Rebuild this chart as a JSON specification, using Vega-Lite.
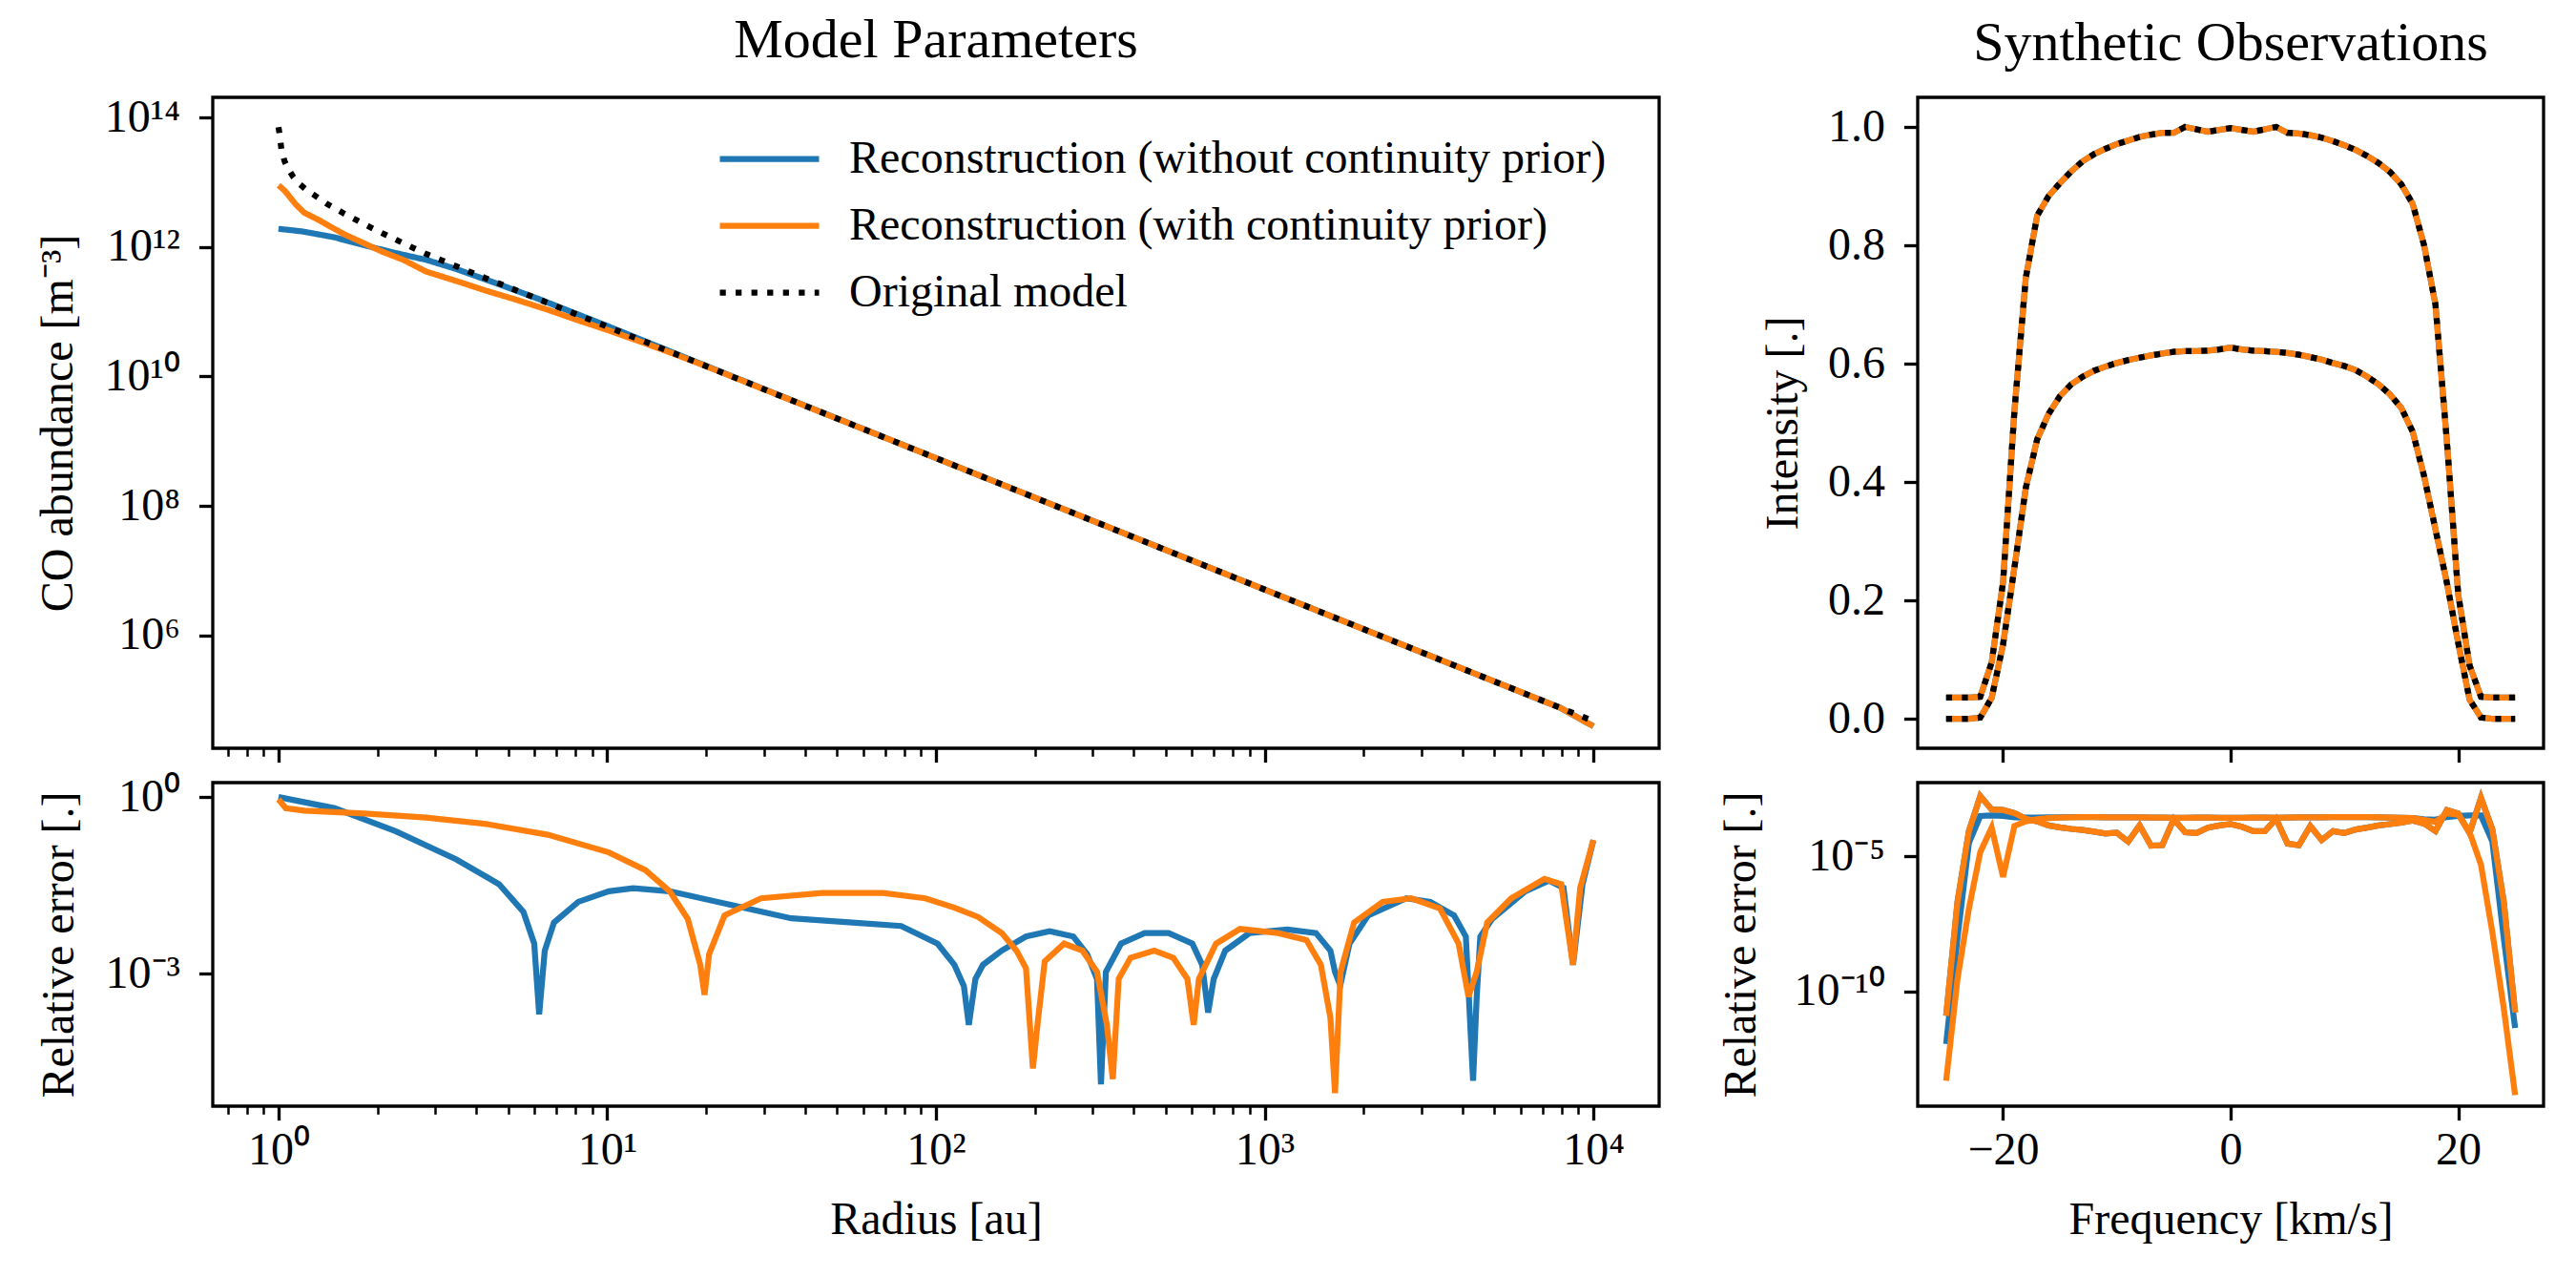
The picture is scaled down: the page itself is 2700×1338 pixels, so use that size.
{
  "$schema": "https://vega.github.io/schema/vega-lite/v6.json",
  "autosize": {"type": "none"},
  "padding": {"left": 223, "top": 102, "right": 2477, "bottom": 1236},
  "background": "white",
  "config": {
    "font": "Liberation Serif",
    "view": {"stroke": "black", "strokeWidth": 3.3, "fill": "white"},
    "axis": {"grid": false, "domain": false, "ticks": true, "tickColor": "black", "tickWidth": 3.3, "tickSize": 14.6,
      "labelFont": "Liberation Serif", "labelFontSize": 48, "labelColor": "black", "labelPadding": 8,
      "labelOverlap": false, "labelFlush": false, "titleFont": "Liberation Serif", "titleFontSize": 48,
      "titleFontWeight": "normal", "titleColor": "black"},
    "axisY": {"labelPadding": 20},
    "title": {"font": "Liberation Serif", "fontSize": 58, "fontWeight": "normal", "color": "black", "anchor": "middle", "frame": "group", "offset": 27, "baseline": "alphabetic"},
    "line": {"strokeWidth": 6.25, "clip": true}
  },
  "datasets": {
    "abund": [
      {"s": "Reconstruction (without continuity prior)", "r": 1, "n": 1.905e12},
      {"s": "Reconstruction (without continuity prior)", "r": 1.1803, "n": 1.738e12},
      {"s": "Reconstruction (without continuity prior)", "r": 1.4757, "n": 1.413e12},
      {"s": "Reconstruction (without continuity prior)", "r": 1.8408, "n": 1.047e12},
      {"s": "Reconstruction (without continuity prior)", "r": 2.3014, "n": 7.94e11},
      {"s": "Reconstruction (without continuity prior)", "r": 2.8184, "n": 6.31e11},
      {"s": "Reconstruction (without continuity prior)", "r": 3.4674, "n": 4.57e11},
      {"s": "Reconstruction (without continuity prior)", "r": 4.6774, "n": 2.66e11},
      {"s": "Reconstruction (without continuity prior)", "r": 6.166, "n": 1.585e11},
      {"s": "Reconstruction (without continuity prior)", "r": 10, "n": 6.03e10},
      {"s": "Reconstruction (without continuity prior)", "r": 15.849, "n": 2.34e10},
      {"s": "Reconstruction (without continuity prior)", "r": 100, "n": 5.5e8},
      {"s": "Reconstruction (without continuity prior)", "r": 1000, "n": 5.13e6},
      {"s": "Reconstruction (without continuity prior)", "r": 7943, "n": 7.64e4},
      {"s": "Reconstruction (without continuity prior)", "r": 10000, "n": 3.98e4},
      {"s": "Reconstruction (with continuity prior)", "r": 1, "n": 8.91e12},
      {"s": "Reconstruction (with continuity prior)", "r": 1.0233, "n": 8.13e12},
      {"s": "Reconstruction (with continuity prior)", "r": 1.052, "n": 7.08e12},
      {"s": "Reconstruction (with continuity prior)", "r": 1.1272, "n": 4.57e12},
      {"s": "Reconstruction (with continuity prior)", "r": 1.1967, "n": 3.39e12},
      {"s": "Reconstruction (with continuity prior)", "r": 1.3213, "n": 2.63e12},
      {"s": "Reconstruction (with continuity prior)", "r": 1.5776, "n": 1.585e12},
      {"s": "Reconstruction (with continuity prior)", "r": 1.8323, "n": 1.122e12},
      {"s": "Reconstruction (with continuity prior)", "r": 2.0606, "n": 8.51e11},
      {"s": "Reconstruction (with continuity prior)", "r": 2.3988, "n": 6.31e11},
      {"s": "Reconstruction (with continuity prior)", "r": 2.8119, "n": 4.17e11},
      {"s": "Reconstruction (with continuity prior)", "r": 3.5481, "n": 2.88e11},
      {"s": "Reconstruction (with continuity prior)", "r": 4.3053, "n": 2.09e11},
      {"s": "Reconstruction (with continuity prior)", "r": 5.2481, "n": 1.549e11},
      {"s": "Reconstruction (with continuity prior)", "r": 6.5917, "n": 1.072e11},
      {"s": "Reconstruction (with continuity prior)", "r": 8.1283, "n": 7.41e10},
      {"s": "Reconstruction (with continuity prior)", "r": 10.116, "n": 5.13e10},
      {"s": "Reconstruction (with continuity prior)", "r": 13.062, "n": 3.24e10},
      {"s": "Reconstruction (with continuity prior)", "r": 15.849, "n": 2.26e10},
      {"s": "Reconstruction (with continuity prior)", "r": 19.953, "n": 1.445e10},
      {"s": "Reconstruction (with continuity prior)", "r": 100, "n": 5.5e8},
      {"s": "Reconstruction (with continuity prior)", "r": 1000, "n": 5.13e6},
      {"s": "Reconstruction (with continuity prior)", "r": 7943, "n": 7.64e4},
      {"s": "Reconstruction (with continuity prior)", "r": 10000, "n": 3.98e4},
      {"s": "Original model", "r": 1, "n": 7.08e13},
      {"s": "Original model", "r": 1.0093, "n": 5.25e13},
      {"s": "Original model", "r": 1.021, "n": 3.16e13},
      {"s": "Original model", "r": 1.0423, "n": 2.14e13},
      {"s": "Original model", "r": 1.0666, "n": 1.66e13},
      {"s": "Original model", "r": 1.1092, "n": 1.2e13},
      {"s": "Original model", "r": 1.1535, "n": 9.55e12},
      {"s": "Original model", "r": 1.2162, "n": 7.59e12},
      {"s": "Original model", "r": 1.2764, "n": 6.46e12},
      {"s": "Original model", "r": 1.4093, "n": 4.57e12},
      {"s": "Original model", "r": 1.5776, "n": 3.31e12},
      {"s": "Original model", "r": 1.7783, "n": 2.4e12},
      {"s": "Original model", "r": 1.9953, "n": 1.78e12},
      {"s": "Original model", "r": 2.2387, "n": 1.35e12},
      {"s": "Original model", "r": 2.5119, "n": 1.02e12},
      {"s": "Original model", "r": 2.8184, "n": 7.76e11},
      {"s": "Original model", "r": 3.9811, "n": 3.8e11},
      {"s": "Original model", "r": 10, "n": 5.89e10},
      {"s": "Original model", "r": 100, "n": 5.5e8},
      {"s": "Original model", "r": 1000, "n": 5.13e6},
      {"s": "Original model", "r": 10000, "n": 4.79e4}
    ],
    "relerr": [
      {"s": "A", "r": 1, "e": 1.0}, {"s": "A", "r": 1.4825, "e": 0.6457}, {"s": "A", "r": 2.2699, "e": 0.263},
      {"s": "A", "r": 3.4754, "e": 0.0871}, {"s": "A", "r": 4.6881, "e": 0.0331}, {"s": "A", "r": 5.559, "e": 0.01122},
      {"s": "A", "r": 5.9979, "e": 0.003236}, {"s": "A", "r": 6.2087, "e": 0.000204}, {"s": "A", "r": 6.4565, "e": 0.002455},
      {"s": "A", "r": 6.8865, "e": 0.007413}, {"s": "A", "r": 8.1658, "e": 0.016596}, {"s": "A", "r": 10.116, "e": 0.025119},
      {"s": "A", "r": 11.995, "e": 0.028184}, {"s": "A", "r": 15.488, "e": 0.025119}, {"s": "A", "r": 23.714, "e": 0.014791},
      {"s": "A", "r": 36.308, "e": 0.00871}, {"s": "A", "r": 55.719, "e": 0.007413}, {"s": "A", "r": 78.343, "e": 0.006457},
      {"s": "A", "r": 101.16, "e": 0.003236}, {"s": "A", "r": 113.76, "e": 0.001413}, {"s": "A", "r": 121.62, "e": 0.000617},
      {"s": "A", "r": 125.89, "e": 0.000135}, {"s": "A", "r": 131.83, "e": 0.000813}, {"s": "A", "r": 139.0, "e": 0.001413},
      {"s": "A", "r": 158.49, "e": 0.002455}, {"s": "A", "r": 187.93, "e": 0.004266}, {"s": "A", "r": 221.82, "e": 0.005248},
      {"s": "A", "r": 261.82, "e": 0.004266}, {"s": "A", "r": 288.4, "e": 0.002138}, {"s": "A", "r": 309.03, "e": 0.000813},
      {"s": "A", "r": 317.69, "e": 1.318e-5}, {"s": "A", "r": 328.85, "e": 0.001072}, {"s": "A", "r": 365.59, "e": 0.003236},
      {"s": "A", "r": 431.52, "e": 0.004898}, {"s": "A", "r": 510.51, "e": 0.004898}, {"s": "A", "r": 602.56, "e": 0.003236},
      {"s": "A", "r": 645.65, "e": 0.001413}, {"s": "A", "r": 672.98, "e": 0.000219}, {"s": "A", "r": 699.84, "e": 0.000813},
      {"s": "A", "r": 758.58, "e": 0.002455}, {"s": "A", "r": 899.5, "e": 0.004898}, {"s": "A", "r": 1172.2, "e": 0.005623},
      {"s": "A", "r": 1432.2, "e": 0.004898}, {"s": "A", "r": 1584.9, "e": 0.002455}, {"s": "A", "r": 1636.8, "e": 0.001072},
      {"s": "A", "r": 1698.2, "e": 0.000631}, {"s": "A", "r": 1811.3, "e": 0.003236}, {"s": "A", "r": 2065.4, "e": 0.009772},
      {"s": "A", "r": 2697.7, "e": 0.019055}, {"s": "A", "r": 3191.5, "e": 0.016596}, {"s": "A", "r": 3767.0, "e": 0.009772},
      {"s": "A", "r": 4092.6, "e": 0.004266}, {"s": "A", "r": 4305.3, "e": 1.514e-5}, {"s": "A", "r": 4415.7, "e": 0.000398},
      {"s": "A", "r": 4528.9, "e": 0.004266}, {"s": "A", "r": 4920.4, "e": 0.008511}, {"s": "A", "r": 6208.7, "e": 0.025119},
      {"s": "A", "r": 7328.2, "e": 0.038019}, {"s": "A", "r": 8109.6, "e": 0.02884}, {"s": "A", "r": 8669.6, "e": 0.001413},
      {"s": "A", "r": 9268.3, "e": 0.033113}, {"s": "A", "r": 10000, "e": 0.18621},
      {"s": "B", "r": 1, "e": 0.912}, {"s": "B", "r": 1.052, "e": 0.6457}, {"s": "B", "r": 1.1967, "e": 0.5888},
      {"s": "B", "r": 1.8323, "e": 0.5248}, {"s": "B", "r": 2.8119, "e": 0.4467}, {"s": "B", "r": 4.3053, "e": 0.3467},
      {"s": "B", "r": 6.5917, "e": 0.2291}, {"s": "B", "r": 10.116, "e": 0.1148}, {"s": "B", "r": 13.062, "e": 0.05754},
      {"s": "B", "r": 15.488, "e": 0.02512}, {"s": "B", "r": 17.579, "e": 0.008511}, {"s": "B", "r": 19.187, "e": 0.001413},
      {"s": "B", "r": 19.77, "e": 0.000437}, {"s": "B", "r": 20.417, "e": 0.002138}, {"s": "B", "r": 22.751, "e": 0.009772},
      {"s": "B", "r": 29.376, "e": 0.019055}, {"s": "B", "r": 44.978, "e": 0.023442}, {"s": "B", "r": 69.024, "e": 0.023442},
      {"s": "B", "r": 92.897, "e": 0.019055}, {"s": "B", "r": 114.02, "e": 0.013183}, {"s": "B", "r": 134.59, "e": 0.00912},
      {"s": "B", "r": 158.49, "e": 0.004898}, {"s": "B", "r": 175.79, "e": 0.002455}, {"s": "B", "r": 187.93, "e": 0.00123},
      {"s": "B", "r": 197.24, "e": 2.455e-5}, {"s": "B", "r": 204.17, "e": 0.000155}, {"s": "B", "r": 214.29, "e": 0.001622},
      {"s": "B", "r": 245.47, "e": 0.003236}, {"s": "B", "r": 279.25, "e": 0.002455}, {"s": "B", "r": 309.03, "e": 0.001072},
      {"s": "B", "r": 331.13, "e": 0.000135}, {"s": "B", "r": 345.14, "e": 1.622e-5}, {"s": "B", "r": 359.75, "e": 0.000813},
      {"s": "B", "r": 390.84, "e": 0.001862}, {"s": "B", "r": 461.32, "e": 0.002455}, {"s": "B", "r": 527.23, "e": 0.001862},
      {"s": "B", "r": 582.1, "e": 0.000813}, {"s": "B", "r": 608.14, "e": 0.000135}, {"s": "B", "r": 630.96, "e": 0.000813},
      {"s": "B", "r": 711.21, "e": 0.003236}, {"s": "B", "r": 841.4, "e": 0.005754}, {"s": "B", "r": 1099.0, "e": 0.004898},
      {"s": "B", "r": 1339.7, "e": 0.003715}, {"s": "B", "r": 1482.5, "e": 0.001413}, {"s": "B", "r": 1584.9, "e": 0.000178},
      {"s": "B", "r": 1636.8, "e": 9.33e-6}, {"s": "B", "r": 1702.2, "e": 0.001072}, {"s": "B", "r": 1870.9, "e": 0.007413},
      {"s": "B", "r": 2285.6, "e": 0.016596}, {"s": "B", "r": 2792.5, "e": 0.019055}, {"s": "B", "r": 3412.0, "e": 0.012882},
      {"s": "B", "r": 3890.5, "e": 0.003236}, {"s": "B", "r": 4168.7, "e": 0.000407}, {"s": "B", "r": 4415.7, "e": 0.001072},
      {"s": "B", "r": 4753.4, "e": 0.007413}, {"s": "B", "r": 5623.4, "e": 0.019055}, {"s": "B", "r": 7095.7, "e": 0.040738},
      {"s": "B", "r": 7979.8, "e": 0.033113}, {"s": "B", "r": 8669.6, "e": 0.001413}, {"s": "B", "r": 9120.1, "e": 0.02884},
      {"s": "B", "r": 10000, "e": 0.18621}
    ],
    "prof": [
      {"p": "H", "f": -25, "v": 0.0355}, {"p": "H", "f": -24, "v": 0.0355}, {"p": "H", "f": -23, "v": 0.0355}, {"p": "H", "f": -22, "v": 0.037},
      {"p": "H", "f": -21, "v": 0.095}, {"p": "H", "f": -20, "v": 0.23}, {"p": "H", "f": -19, "v": 0.52}, {"p": "H", "f": -18, "v": 0.745},
      {"p": "H", "f": -17, "v": 0.85}, {"p": "H", "f": -16, "v": 0.883}, {"p": "H", "f": -15, "v": 0.905}, {"p": "H", "f": -14, "v": 0.925},
      {"p": "H", "f": -13, "v": 0.942}, {"p": "H", "f": -12, "v": 0.954}, {"p": "H", "f": -11, "v": 0.963}, {"p": "H", "f": -10, "v": 0.971},
      {"p": "H", "f": -9, "v": 0.977}, {"p": "H", "f": -8, "v": 0.983}, {"p": "H", "f": -7, "v": 0.987}, {"p": "H", "f": -6, "v": 0.99},
      {"p": "H", "f": -5, "v": 0.99}, {"p": "H", "f": -4, "v": 1.0}, {"p": "H", "f": -3, "v": 0.996}, {"p": "H", "f": -2, "v": 0.992},
      {"p": "H", "f": -1, "v": 0.995}, {"p": "H", "f": 0, "v": 0.998}, {"p": "H", "f": 1, "v": 0.995}, {"p": "H", "f": 2, "v": 0.992},
      {"p": "H", "f": 3, "v": 0.996}, {"p": "H", "f": 4, "v": 1.0}, {"p": "H", "f": 5, "v": 0.99}, {"p": "H", "f": 6, "v": 0.989},
      {"p": "H", "f": 7, "v": 0.986}, {"p": "H", "f": 8, "v": 0.982}, {"p": "H", "f": 9, "v": 0.976}, {"p": "H", "f": 10, "v": 0.969},
      {"p": "H", "f": 11, "v": 0.961}, {"p": "H", "f": 12, "v": 0.951}, {"p": "H", "f": 13, "v": 0.939}, {"p": "H", "f": 14, "v": 0.924},
      {"p": "H", "f": 15, "v": 0.903}, {"p": "H", "f": 16, "v": 0.87}, {"p": "H", "f": 17, "v": 0.8}, {"p": "H", "f": 18, "v": 0.7},
      {"p": "H", "f": 19, "v": 0.47}, {"p": "H", "f": 20, "v": 0.21}, {"p": "H", "f": 21, "v": 0.09}, {"p": "H", "f": 22, "v": 0.037},
      {"p": "H", "f": 23, "v": 0.0355}, {"p": "H", "f": 24, "v": 0.0355}, {"p": "H", "f": 25, "v": 0.0355},
      {"p": "L", "f": -25, "v": 0}, {"p": "L", "f": -24, "v": 0}, {"p": "L", "f": -23, "v": 0}, {"p": "L", "f": -22, "v": 0.002},
      {"p": "L", "f": -21, "v": 0.035}, {"p": "L", "f": -20, "v": 0.125}, {"p": "L", "f": -19, "v": 0.255}, {"p": "L", "f": -18, "v": 0.39},
      {"p": "L", "f": -17, "v": 0.472}, {"p": "L", "f": -16, "v": 0.515}, {"p": "L", "f": -15, "v": 0.545}, {"p": "L", "f": -14, "v": 0.565},
      {"p": "L", "f": -13, "v": 0.578}, {"p": "L", "f": -12, "v": 0.588}, {"p": "L", "f": -11, "v": 0.595}, {"p": "L", "f": -10, "v": 0.601},
      {"p": "L", "f": -9, "v": 0.606}, {"p": "L", "f": -8, "v": 0.61}, {"p": "L", "f": -7, "v": 0.614}, {"p": "L", "f": -6, "v": 0.617},
      {"p": "L", "f": -5, "v": 0.62}, {"p": "L", "f": -4, "v": 0.621}, {"p": "L", "f": -3, "v": 0.621}, {"p": "L", "f": -2, "v": 0.622},
      {"p": "L", "f": -1, "v": 0.624}, {"p": "L", "f": 0, "v": 0.627}, {"p": "L", "f": 1, "v": 0.624}, {"p": "L", "f": 2, "v": 0.622},
      {"p": "L", "f": 3, "v": 0.621}, {"p": "L", "f": 4, "v": 0.62}, {"p": "L", "f": 5, "v": 0.618}, {"p": "L", "f": 6, "v": 0.615},
      {"p": "L", "f": 7, "v": 0.611}, {"p": "L", "f": 8, "v": 0.607}, {"p": "L", "f": 9, "v": 0.601}, {"p": "L", "f": 10, "v": 0.596},
      {"p": "L", "f": 11, "v": 0.589}, {"p": "L", "f": 12, "v": 0.578}, {"p": "L", "f": 13, "v": 0.565}, {"p": "L", "f": 14, "v": 0.548},
      {"p": "L", "f": 15, "v": 0.525}, {"p": "L", "f": 16, "v": 0.485}, {"p": "L", "f": 17, "v": 0.41}, {"p": "L", "f": 18, "v": 0.32},
      {"p": "L", "f": 19, "v": 0.23}, {"p": "L", "f": 20, "v": 0.128}, {"p": "L", "f": 21, "v": 0.032}, {"p": "L", "f": 22, "v": 0.002},
      {"p": "L", "f": 23, "v": 0}, {"p": "L", "f": 24, "v": 0}, {"p": "L", "f": 25, "v": 0}
    ],
    "serr": [
      {"p": 1, "f": -25, "a": 1.26e-11, "b": 1.26e-11}, {"p": 1, "f": -24, "a": 2.14e-7, "b": 2.14e-7},
      {"p": 1, "f": -23, "a": 8.71e-5, "b": 8.71e-5}, {"p": 1, "f": -22, "a": 1.74e-3, "b": 1.74e-3},
      {"p": 1, "f": -21, "a": 5.5e-4, "b": 5.5e-4}, {"p": 1, "f": -20, "a": 5.25e-4, "b": 5.25e-4},
      {"p": 1, "f": -19, "a": 4.07e-4, "b": 4.07e-4}, {"p": 1, "f": -18, "a": 2.51e-4, "b": 2.51e-4},
      {"p": 1, "f": -17, "a": 2.0e-4, "b": 2.0e-4}, {"p": 1, "f": -16, "a": 1.41e-4, "b": 1.41e-4},
      {"p": 1, "f": -15, "a": 1.2e-4, "b": 1.2e-4}, {"p": 1, "f": -14, "a": 1.05e-4, "b": 1.05e-4},
      {"p": 1, "f": -13, "a": 9.55e-5, "b": 9.55e-5}, {"p": 1, "f": -12, "a": 8.32e-5, "b": 8.32e-5},
      {"p": 1, "f": -11, "a": 7.08e-5, "b": 7.08e-5}, {"p": 1, "f": -10, "a": 7.59e-5, "b": 7.59e-5},
      {"p": 1, "f": -9, "a": 3.55e-5, "b": 3.55e-5}, {"p": 1, "f": -8, "a": 1.41e-4, "b": 1.41e-4},
      {"p": 1, "f": -7, "a": 2.51e-5, "b": 2.51e-5}, {"p": 1, "f": -6, "a": 2.63e-5, "b": 2.63e-5},
      {"p": 1, "f": -5, "a": 2.4e-4, "b": 2.4e-4}, {"p": 1, "f": -4, "a": 7.94e-5, "b": 7.94e-5},
      {"p": 1, "f": -3, "a": 7.41e-5, "b": 7.41e-5}, {"p": 1, "f": -2, "a": 1.17e-4, "b": 1.17e-4},
      {"p": 1, "f": -1, "a": 1.41e-4, "b": 1.41e-4}, {"p": 1, "f": 0, "a": 1.58e-4, "b": 1.58e-4},
      {"p": 1, "f": 1, "a": 1.26e-4, "b": 1.26e-4}, {"p": 1, "f": 2, "a": 8.71e-5, "b": 8.71e-5},
      {"p": 1, "f": 3, "a": 8.71e-5, "b": 8.71e-5}, {"p": 1, "f": 4, "a": 2.45e-4, "b": 2.45e-4},
      {"p": 1, "f": 5, "a": 3.02e-5, "b": 3.02e-5}, {"p": 1, "f": 6, "a": 2.63e-5, "b": 2.63e-5},
      {"p": 1, "f": 7, "a": 1.35e-4, "b": 1.35e-4}, {"p": 1, "f": 8, "a": 4.07e-5, "b": 4.07e-5},
      {"p": 1, "f": 9, "a": 8.71e-5, "b": 8.71e-5}, {"p": 1, "f": 10, "a": 7.41e-5, "b": 7.41e-5},
      {"p": 1, "f": 11, "a": 1.0e-4, "b": 1.0e-4}, {"p": 1, "f": 12, "a": 1.17e-4, "b": 1.17e-4},
      {"p": 1, "f": 13, "a": 1.41e-4, "b": 1.41e-4}, {"p": 1, "f": 14, "a": 1.58e-4, "b": 1.58e-4},
      {"p": 1, "f": 15, "a": 1.78e-4, "b": 1.78e-4}, {"p": 1, "f": 16, "a": 2.14e-4, "b": 2.14e-4},
      {"p": 1, "f": 17, "a": 1.66e-4, "b": 1.66e-4}, {"p": 1, "f": 18, "a": 8.71e-5, "b": 8.71e-5},
      {"p": 1, "f": 19, "a": 5.25e-4, "b": 5.25e-4}, {"p": 1, "f": 20, "a": 3.89e-4, "b": 3.89e-4},
      {"p": 1, "f": 21, "a": 7.41e-5, "b": 7.41e-5}, {"p": 1, "f": 22, "a": 1.48e-3, "b": 1.48e-3},
      {"p": 1, "f": 23, "a": 1.0e-4, "b": 1.0e-4}, {"p": 1, "f": 24, "a": 2.14e-7, "b": 2.14e-7},
      {"p": 1, "f": 25, "a": 1.7e-11, "b": 1.7e-11},
      {"p": 2, "f": -25, "a": 1.15e-12, "b": 5.01e-14}, {"p": 2, "f": -24, "a": 1.0e-8, "b": 2.95e-10},
      {"p": 2, "f": -23, "a": 3.16e-5, "b": 1.17e-7}, {"p": 2, "f": -22, "a": 3.16e-4, "b": 1.45e-5},
      {"p": 2, "f": -21, "a": 3.31e-4, "b": 1.17e-4}, {"p": 2, "f": -20, "a": 3.16e-4, "b": 1.74e-6},
      {"p": 2, "f": -19, "a": 2.82e-4, "b": 1.35e-4}, {"p": 2, "f": -18, "a": 2.75e-4, "b": 2.0e-4},
      {"p": 2, "f": -17, "a": 2.75e-4, "b": 2.4e-4}, {"p": 2, "f": -16, "a": 2.8e-4, "b": 2.63e-4},
      {"p": 2, "f": -15, "a": 2.82e-4, "b": 2.75e-4}, {"p": 2, "f": -14, "a": 2.85e-4, "b": 2.82e-4},
      {"p": 2, "f": -13, "a": 2.85e-4, "b": 2.85e-4}, {"p": 2, "f": -12, "a": 2.85e-4, "b": 2.85e-4},
      {"p": 2, "f": -11, "a": 2.82e-4, "b": 2.82e-4}, {"p": 2, "f": -10, "a": 2.82e-4, "b": 2.82e-4},
      {"p": 2, "f": -9, "a": 2.8e-4, "b": 2.8e-4}, {"p": 2, "f": -8, "a": 2.8e-4, "b": 2.8e-4},
      {"p": 2, "f": -7, "a": 2.78e-4, "b": 2.78e-4}, {"p": 2, "f": -6, "a": 2.75e-4, "b": 2.75e-4},
      {"p": 2, "f": -5, "a": 2.7e-4, "b": 2.69e-4}, {"p": 2, "f": -4, "a": 2.72e-4, "b": 2.72e-4},
      {"p": 2, "f": -3, "a": 2.75e-4, "b": 2.75e-4}, {"p": 2, "f": -2, "a": 2.75e-4, "b": 2.75e-4},
      {"p": 2, "f": -1, "a": 2.72e-4, "b": 2.72e-4}, {"p": 2, "f": 0, "a": 2.7e-4, "b": 2.69e-4},
      {"p": 2, "f": 1, "a": 2.72e-4, "b": 2.72e-4}, {"p": 2, "f": 2, "a": 2.75e-4, "b": 2.75e-4},
      {"p": 2, "f": 3, "a": 2.75e-4, "b": 2.75e-4}, {"p": 2, "f": 4, "a": 2.72e-4, "b": 2.7e-4},
      {"p": 2, "f": 5, "a": 2.78e-4, "b": 2.78e-4}, {"p": 2, "f": 6, "a": 2.8e-4, "b": 2.8e-4},
      {"p": 2, "f": 7, "a": 2.82e-4, "b": 2.82e-4}, {"p": 2, "f": 8, "a": 2.82e-4, "b": 2.82e-4},
      {"p": 2, "f": 9, "a": 2.85e-4, "b": 2.85e-4}, {"p": 2, "f": 10, "a": 2.85e-4, "b": 2.85e-4},
      {"p": 2, "f": 11, "a": 2.85e-4, "b": 2.85e-4}, {"p": 2, "f": 12, "a": 2.85e-4, "b": 2.85e-4},
      {"p": 2, "f": 13, "a": 2.82e-4, "b": 2.82e-4}, {"p": 2, "f": 14, "a": 2.78e-4, "b": 2.78e-4},
      {"p": 2, "f": 15, "a": 2.72e-4, "b": 2.72e-4}, {"p": 2, "f": 16, "a": 2.63e-4, "b": 2.63e-4},
      {"p": 2, "f": 17, "a": 2.4e-4, "b": 2.24e-4}, {"p": 2, "f": 18, "a": 2.3e-4, "b": 1.91e-4},
      {"p": 2, "f": 19, "a": 2.9e-4, "b": 3.98e-4}, {"p": 2, "f": 20, "a": 3.16e-4, "b": 3.55e-4},
      {"p": 2, "f": 21, "a": 3.31e-4, "b": 7.94e-5}, {"p": 2, "f": 22, "a": 3.31e-4, "b": 5.01e-6},
      {"p": 2, "f": 23, "a": 3.55e-5, "b": 1.58e-8}, {"p": 2, "f": 24, "a": 1.0e-8, "b": 2.51e-11},
      {"p": 2, "f": 25, "a": 4.47e-12, "b": 1.48e-14}
    ]
  },
  "spacing": 1787,
  "bounds": "flush",
  "hconcat": [
    {
      "spacing": 36,
      "bounds": "flush",
      "vconcat": [
        {
          "width": 1516, "height": 682,
          "title": {"text": "Model Parameters"},
          "data": {"name": "abund"},
          "encoding": {
            "x": {"field": "r", "type": "quantitative",
              "scale": {"type": "log", "domain": [0.631, 15849], "nice": false},
              "axis": {"title": null, "labels": false,
                "values": [0.7,0.8,0.9,1,2,3,4,5,6,7,8,9,10,20,30,40,50,60,70,80,90,100,200,300,400,500,600,700,800,900,1000,2000,3000,4000,5000,6000,7000,8000,9000,10000],
                "tickSize": {"condition": {"test": "abs(log(datum.value)/LN10 - round(log(datum.value)/LN10)) < 0.001", "value": 14.6}, "value": 8.3},
                "tickWidth": {"condition": {"test": "abs(log(datum.value)/LN10 - round(log(datum.value)/LN10)) < 0.001", "value": 3.3}, "value": 2.5}}},
            "y": {"field": "n", "type": "quantitative",
              "scale": {"type": "log", "domain": [18200, 2.04e14], "nice": false},
              "axis": {"values": [1e6, 1e8, 1e10, 1e12, 1e14], "title": "CO abundance [m⁻³]", "titleX": -148, "titleBaseline": "alphabetic",
                "labelExpr": "'10' + replace(replace(replace(replace(replace(replace(replace(replace(replace(replace(replace(toString(round(log(datum.value)/LN10)), '-', '⁻'), regexp('0','g'), '⁰'), regexp('1','g'), '¹'), regexp('2','g'), '²'), regexp('3','g'), '³'), regexp('4','g'), '⁴'), regexp('5','g'), '⁵'), regexp('6','g'), '⁶'), regexp('7','g'), '⁷'), regexp('8','g'), '⁸'), regexp('9','g'), '⁹')"}},
            "color": {"field": "s", "type": "nominal",
              "scale": {"domain": ["Reconstruction (without continuity prior)", "Reconstruction (with continuity prior)", "Original model"], "range": ["#1f77b4", "#ff7f0e", "#000000"]},
              "legend": {"title": null, "orient": "none", "legendX": 554, "legendY": 35, "symbolType": "M-2,0H2", "symbolSize": 2704, "symbolStrokeWidth": 6.25, "labelFont": "Liberation Serif", "labelFontSize": 48, "labelColor": "black", "labelOffset": 54, "rowPadding": 16, "labelLimit": 0, "padding": 0}},
            "strokeDash": {"field": "s", "type": "nominal",
              "scale": {"domain": ["Reconstruction (without continuity prior)", "Reconstruction (with continuity prior)", "Original model"], "range": [[1, 0], [1, 0], [6.25, 10.3]]},
              "legend": {"title": null, "orient": "none", "legendX": 554, "legendY": 35, "symbolType": "M-2,0H2", "symbolSize": 2704, "symbolStrokeWidth": 6.25, "labelFont": "Liberation Serif", "labelFontSize": 48, "labelColor": "black", "labelOffset": 54, "rowPadding": 16, "labelLimit": 0, "padding": 0}}
          },
          "layer": [
            {"transform": [{"filter": {"field": "s", "equal": "Reconstruction (without continuity prior)"}}], "mark": {"type": "line"}},
            {"transform": [{"filter": {"field": "s", "equal": "Reconstruction (with continuity prior)"}}], "mark": {"type": "line"}},
            {"transform": [{"filter": {"field": "s", "equal": "Original model"}}], "mark": {"type": "line"}}
          ]
        },
        {
          "width": 1516, "height": 339,
          "data": {"name": "relerr"},
          "encoding": {
            "x": {"field": "r", "type": "quantitative",
              "scale": {"type": "log", "domain": [0.631, 15849], "nice": false},
              "axis": {"title": "Radius [au]", "titleY": 133, "titleBaseline": "alphabetic",
                "values": [0.7,0.8,0.9,1,2,3,4,5,6,7,8,9,10,20,30,40,50,60,70,80,90,100,200,300,400,500,600,700,800,900,1000,2000,3000,4000,5000,6000,7000,8000,9000,10000],
                "labelExpr": "abs(log(datum.value)/LN10 - round(log(datum.value)/LN10)) < 0.001 ? '10' + replace(replace(replace(replace(replace(replace(replace(replace(replace(replace(replace(toString(round(log(datum.value)/LN10)), '-', '⁻'), regexp('0','g'), '⁰'), regexp('1','g'), '¹'), regexp('2','g'), '²'), regexp('3','g'), '³'), regexp('4','g'), '⁴'), regexp('5','g'), '⁵'), regexp('6','g'), '⁶'), regexp('7','g'), '⁷'), regexp('8','g'), '⁸'), regexp('9','g'), '⁹') : ''",
                "tickSize": {"condition": {"test": "abs(log(datum.value)/LN10 - round(log(datum.value)/LN10)) < 0.001", "value": 14.6}, "value": 8.3},
                "tickWidth": {"condition": {"test": "abs(log(datum.value)/LN10 - round(log(datum.value)/LN10)) < 0.001", "value": 3.3}, "value": 2.5}}},
            "y": {"field": "e", "type": "quantitative",
              "scale": {"type": "log", "domain": [5.62e-6, 1.758], "nice": false},
              "axis": {"values": [1e-3, 1], "title": "Relative error [.]", "titleX": -147, "titleBaseline": "alphabetic",
                "labelExpr": "'10' + replace(replace(replace(replace(replace(replace(replace(replace(replace(replace(replace(toString(round(log(datum.value)/LN10)), '-', '⁻'), regexp('0','g'), '⁰'), regexp('1','g'), '¹'), regexp('2','g'), '²'), regexp('3','g'), '³'), regexp('4','g'), '⁴'), regexp('5','g'), '⁵'), regexp('6','g'), '⁶'), regexp('7','g'), '⁷'), regexp('8','g'), '⁸'), regexp('9','g'), '⁹')"}}
          },
          "layer": [
            {"transform": [{"filter": {"field": "s", "equal": "A"}}], "mark": {"type": "line", "color": "#1f77b4"}},
            {"transform": [{"filter": {"field": "s", "equal": "B"}}], "mark": {"type": "line", "color": "#ff7f0e"}}
          ]
        }
      ]
    },
    {
      "spacing": 36,
      "bounds": "flush",
      "vconcat": [
        {
          "width": 656, "height": 682,
          "title": {"text": "Synthetic Observations"},
          "data": {"name": "prof"},
          "encoding": {
            "x": {"field": "f", "type": "quantitative", "scale": {"domain": [-27.5, 27.5], "nice": false, "zero": false},
              "axis": {"values": [-20, 0, 20], "labels": false, "title": null}},
            "y": {"field": "v", "type": "quantitative", "scale": {"domain": [-0.05, 1.05], "nice": false, "zero": false},
              "axis": {"values": [0, 0.2, 0.4, 0.6, 0.8, 1.0], "format": ".1f", "title": "Intensity [.]", "titleX": -127, "titleBaseline": "alphabetic"}},
            "detail": {"field": "p", "type": "nominal"}
          },
          "layer": [
            {"mark": {"type": "line", "color": "#1f77b4"}},
            {"mark": {"type": "line", "color": "#ff7f0e"}},
            {"mark": {"type": "line", "color": "#000000", "strokeDash": [6.25, 10.3]}}
          ]
        },
        {
          "width": 656, "height": 339,
          "data": {"name": "serr"},
          "transform": [{"fold": ["a", "b"], "as": ["k", "e"]}],
          "encoding": {
            "x": {"field": "f", "type": "quantitative", "scale": {"domain": [-27.5, 27.5], "nice": false, "zero": false},
              "axis": {"values": [-20, 0, 20], "format": "d", "title": "Frequency [km/s]", "titleY": 133, "titleBaseline": "alphabetic"}},
            "y": {"field": "e", "type": "quantitative", "scale": {"type": "log", "domain": [5.75e-15, 5.43e-3], "nice": false},
              "axis": {"values": [1e-10, 1e-5], "title": "Relative error [.]", "titleX": -171, "titleBaseline": "alphabetic",
                "labelExpr": "'10' + replace(replace(replace(replace(replace(replace(replace(replace(replace(replace(replace(toString(round(log(datum.value)/LN10)), '-', '⁻'), regexp('0','g'), '⁰'), regexp('1','g'), '¹'), regexp('2','g'), '²'), regexp('3','g'), '³'), regexp('4','g'), '⁴'), regexp('5','g'), '⁵'), regexp('6','g'), '⁶'), regexp('7','g'), '⁷'), regexp('8','g'), '⁸'), regexp('9','g'), '⁹')"}},
            "detail": {"field": "p", "type": "nominal"}
          },
          "layer": [
            {"transform": [{"filter": {"field": "k", "equal": "a"}}], "mark": {"type": "line", "color": "#1f77b4"}},
            {"transform": [{"filter": {"field": "k", "equal": "b"}}], "mark": {"type": "line", "color": "#ff7f0e"}}
          ]
        }
      ]
    }
  ]
}
